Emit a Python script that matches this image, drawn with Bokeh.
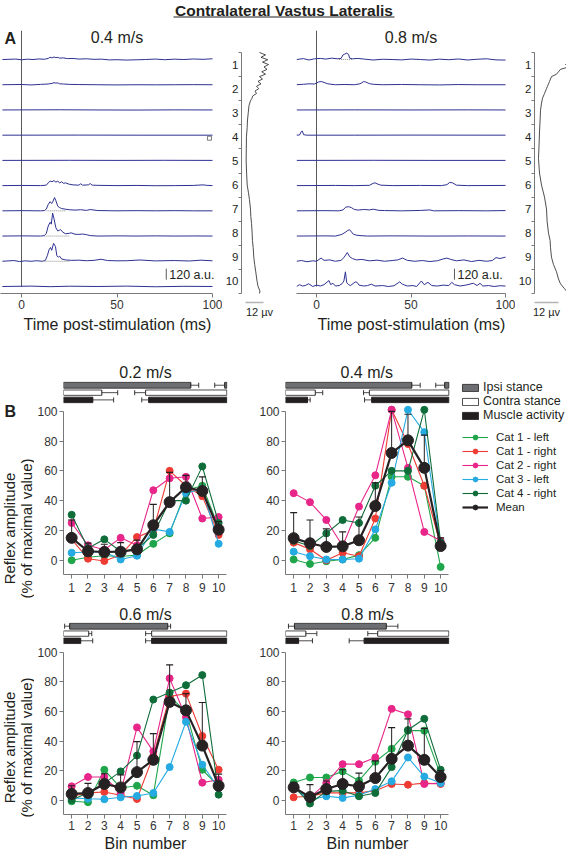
import math
from bokeh.plotting import figure
from bokeh.models import Range1d, FixedTicker, Legend, LegendItem, Title
from bokeh.layouts import column, row
from bokeh.embed import file_html
from bokeh.resources import INLINE
from bokeh.core.properties import value

FONT = "Liberation Sans"
INK = "#231f20"
TICKC = "#333333"
AXC = "#77787b"
TRACE = "#2e3192"
MEANC = "#262223"

main_title = "Contralateral Vastus Lateralis"
y_title = ["Reflex amplitude", "(% of maximal value)"]

# ---------------- Panel A data ----------------
a_speeds = ["0.4 m/s", "0.8 m/s"]
trace_ids = [1, 2, 3, 4, 5, 6, 7, 8, 9, 10]

# (time ms, amplitude a.u.) key points per trace, 0.4 m/s
tr04 = [
    [(-10, 0), (-3, 5), (0, -3), (3, 4), (6, 0), (9, 6), (12, 3), (14, 12), (15, 25), (16, 18), (17, 28), (18, 20),
     (19, 24), (20, 15), (22, 18), (24, 10), (27, 12), (30, 5), (34, 8), (38, 2), (42, 4), (46, -4), (50, -2),
     (55, -6), (60, -3), (65, 0), (70, 5), (75, -2), (80, 4), (85, 0), (90, 6), (95, 2), (100, 8)],
    [(-10, 0), (0, 3), (5, -2), (10, 4), (14, 8), (16, 15), (17, 22), (18, 18), (19, 20), (20, 10), (22, 8),
     (25, 4), (30, 2), (40, 0), (50, -2), (60, 0), (70, -1), (80, 0), (90, 1), (100, 0)],
    [(-10, 0), (20, 2), (40, 0), (60, -1), (80, 1), (100, 0)],
    [(-10, 0), (30, 1), (60, 0), (100, 0)],
    [(-10, 0), (25, 1), (50, 0), (75, 1), (100, 0)],
    [(-10, 0), (0, 2), (10, 0), (13, 5), (14, 30), (15, 50), (16, 42), (17, 55), (18, 38), (19, 48), (20, 30),
     (21, 42), (22, 25), (23, 30), (25, 15), (27, 8), (30, 5), (31, 20), (32, 5), (35, 8), (36, 22), (37, 5),
     (40, 3), (50, 0), (60, 2), (70, -1), (80, 0), (90, 2), (95, 8), (97, 3), (100, 0)],
    [(-10, 0), (0, 2), (10, 0), (12, 3), (13, 20), (14, 70), (15, 100), (15.8, 80), (16.5, 105), (17.3, 145),
     (18, 110), (19, 50), (20, 35), (21, 25), (23, 18), (25, 12), (28, 8), (31, 12), (34, 5), (36, 14), (40, 3),
     (50, 0), (60, 2), (70, 0), (80, 2), (90, 0), (100, 0)],
    [(-10, 0), (0, 2), (10, 0), (12, 5), (13, 30), (14, 110), (15, 150), (15.6, 130), (16.3, 250), (17, 190),
     (18, 90), (19, 55), (20, 65), (20.5, 70), (21.5, 45), (23, 25), (25, 30), (26, 35), (28, 20), (30, 18),
     (32, 22), (34, 15), (36, 5), (40, 0), (50, 2), (60, 0), (70, 2), (80, 0), (90, 1), (100, 0)],
    [(-10, 0), (-4, 8), (-1, -3), (2, 5), (5, 0), (8, 6), (11, 0), (12.5, 10), (13.5, 60), (14.5, 130),
     (15.2, 150), (15.8, 120), (16.8, 195), (17.8, 160), (18.5, 60), (19.3, 45), (20, 55), (21, 25), (23, 15),
     (26, 10), (30, 12), (34, 6), (38, 10), (41.6, 22), (45, 8), (50, 5), (55, 6), (62, 14), (70, 4), (80, 8),
     (88, 3), (94, 12), (100, 5)],
    [(-10, 0), (5, 4), (15, -2), (25, 3), (40, 0), (55, 4), (70, -3), (85, 2), (100, 0)],
]

# 0.8 m/s
tr08 = [
    [(-10.5, 0), (-7, 10), (-4, -5), (-1, 8), (2, 12), (5, 5), (8, 15), (11, 8), (13, 12), (14, 50), (15, 60),
     (16, 70), (17, 55), (17.5, 15), (19, 8), (22, 12), (25, 5), (30, -5), (35, 3), (40, 0), (45, -4), (50, 5),
     (55, 0), (60, -6), (65, 4), (70, -2), (75, 6), (80, -5), (85, 3), (90, 8), (95, -4), (100, -6)],
    [(-10.5, 0), (-7, 5), (-4, 10), (-1, 8), (1, 30), (2.5, 35), (4, 25), (6, 10), (10, 0), (15, 3), (20, 0),
     (23, 10), (25, 35), (26, 30), (28, 12), (30, 5), (35, 0), (45, 3), (55, 0), (65, -2), (75, 2), (85, 0),
     (100, 0)],
    [(-10.5, 0), (20, 1), (50, 0), (80, 1), (100, 0)],
    [(-10.5, 0), (-9, 2), (-8, 40), (-7.5, 45), (-6.8, 5), (-5, 0), (20, 0), (50, 1), (100, 0)],
    [(-10.5, 0), (30, 1), (60, 0), (100, 0)],
    [(-10.5, 0), (10, 2), (20, 0), (28, 3), (30, 25), (31, 30), (32, 20), (34, 5), (40, 0), (55, 2), (66, 0),
     (69, 10), (70.5, 35), (72, 30), (74, 5), (80, 0), (100, 2)],
    [(-10.5, 0), (5, 2), (12, 0), (14, 10), (15.5, 40), (17, 45), (18.5, 35), (20, 15), (22, 8), (25, 15),
     (28, 10), (30, 18), (33, 5), (36, 3), (45, 0), (55, 4), (60, 10), (62, 0), (75, 2), (90, 0), (100, 3)],
    [(-10.5, 0), (5, 2), (10, 0), (13, 15), (14, 25), (15.5, 45), (16.5, 60), (17.5, 70), (18.5, 45), (19.5, 20),
     (21, 10), (23, 5), (27, 0), (40, 2), (60, 0), (80, 1), (100, 0)],
    [(-10.5, 0), (-8, 8), (-5, -5), (-2, 5), (0, 0), (2.4, 35), (4, 10), (7, 15), (10, 0), (13, 10), (14.5, 40),
     (16.3, 95), (17.5, 50), (19, 30), (21, 15), (24, 20), (28, 5), (32, 12), (36, 0), (40, 8), (43, 15),
     (45.5, 35), (48, 10), (52, 0), (56, 8), (60, -3), (64, 6), (67, 25), (69, 35), (71, 20), (74, 5), (78, 15),
     (82, -3), (86, 10), (90, 0), (93, 8), (95, 40), (97, 30), (100, 45)],
    [(-10.5, 0), (-9, 20), (-7.5, 5), (-6, 10), (-4.2, 30), (-2, 0), (0, 15), (2, 5), (4, 20), (6.6, 65),
     (7.5, 20), (8.7, 35), (10, 5), (12, 10), (13.5, 30), (14.5, 60), (15.3, 160), (16, 40), (17, 20), (18, 10),
     (20.5, 50), (21.5, 45), (22.5, 15), (25, 5), (27, 10), (29, 25), (31, 5), (35, 10), (38, 0), (41, 8),
     (44, 50), (45.5, 25), (48, 5), (51, 10), (53, 0), (55.5, 60), (57, 20), (59, 45), (61, 10), (64, 5),
     (67, 15), (70, 10), (71.6, 45), (73, 20), (76, 5), (79, 15), (83, 35), (85, 10), (86.5, 35), (88, 5),
     (91, 10), (94, 0), (97, 8), (100, 5)],
]

# dotted baselines under the responses: (trace, from ms, to ms)
dots04 = [(7, 13, 23), (8, 12, 25), (9, 12, 25)]
dots08 = [(1, 12, 19)]

# EMG profile along the step cycle (bin position, microvolts)
prof04_bin = [0.5, 0.6, 0.7, 0.8, 0.9, 1.0, 1.1, 1.2, 1.3, 1.4, 1.5, 1.6, 1.7, 1.8, 1.9, 2.0, 2.1, 2.2, 2.3, 2.4,
              2.5, 2.7, 3.0, 3.3, 3.6, 4.0, 4.5, 5.0, 5.5, 6.0, 6.3, 6.6, 7.0, 7.3, 7.6, 8.0, 8.3, 8.6, 9.0, 9.3,
              9.6, 10.0, 10.2, 10.4, 10.5]
prof04_uv = [12, 16, 13, 17.5, 14, 18, 15, 17, 13.5, 16, 12, 14, 11, 13, 10, 11.5, 9, 10, 7.5, 7,
             6, 5, 4.5, 4, 3.8, 3.3, 3.2, 3.1, 3.4, 3.8, 4.6, 5.3, 6, 6.2, 6.7, 7.1, 7.3, 7.8, 8.2, 8.8,
             9.5, 10.4, 11, 12.3, 12]
prof08_bin = [0.5, 0.6, 0.7, 0.8, 0.9, 1.0, 1.1, 1.2, 1.3, 1.4, 1.5, 1.6, 1.7, 1.8, 1.9, 2.0, 2.2, 2.4, 2.6, 2.9,
              3.3, 3.8, 4.3, 4.9, 5.5, 6.0, 6.5, 7.0, 7.5, 8.0, 8.3, 8.6, 9.0, 9.3, 9.6, 9.9, 10.1, 10.3, 10.4, 10.5]
prof08_uv = [17.5, 16, 19, 16.5, 18.5, 15.5, 17, 13, 12, 11, 8.5, 8, 7.5, 7, 6.5, 6, 5, 4, 3.5, 3,
             2.8, 2.5, 2.3, 2, 2.5, 3.5, 5, 6, 6.3, 7, 7.8, 8, 8.5, 9.5, 11, 12, 13, 15, 16, 17.5]

# ---------------- Panel B data ----------------
bins = [1, 2, 3, 4, 5, 6, 7, 8, 9, 10]
b_speeds = ["0.2 m/s", "0.4 m/s", "0.6 m/s", "0.8 m/s"]
cat_names = ["Cat 1 - left", "Cat 1 - right", "Cat 2 - right", "Cat 3 - left", "Cat 4 - right"]
cat_colors = ["#1fa64b", "#ee3b33", "#e8268a", "#25aae1", "#0f6d3a"]

c1l_02 = [0, 2, 3, 2.5, 3.5, 11, 18, 47, 50, 22]
c1r_02 = [14, 1, -0.5, 3.5, 15.5, 20, 60, 50, 43, 17]
c2r_02 = [25, 10, 7, 15, 10, 47, 55, 56, 28, 29]
c3l_02 = [5, 5.5, 5.5, 0.5, 3, 21, 19, 45, 48, 11]
c4r_02 = [30.5, 8, 14, 6, 7.5, 17, 40, 40, 63, 25]
mean_02 = [15, 6, 5.5, 5.7, 7.3, 23.5, 39, 49, 46.5, 20.5]
err_02 = [27, 11.5, 10.7, 11.8, 13.5, 37.5, 59, 57, 56, 26]

c1l_04 = [0.5, -2.5, -0.7, 0.5, 3.4, 15, 56, 56, 50, -4.5]
c1r_04 = [11.8, 7.3, 0, 5, 2.7, 28, 101, 78, 50, 10]
c2r_04 = [45, 39, 27, 9.5, 36, 57, 101, 62, 19, 13]
c3l_04 = [5.7, 2.7, 0.5, 0.5, 1, 20.7, 52, 101, 86, 10]
c4r_04 = [13, 9.5, 18, 27, 25, 50, 60, 60, 101, 12]
mean_04 = [14.8, 11.4, 8.9, 9.3, 13.4, 36.4, 72, 80.5, 62, 9.5]
err_04 = [32, 27, 21, 19, 29, 52, 100, 98, 84, 15]

c1l_06 = [-0.7, -1.3, 20.6, 8.3, 9.8, 3.4, 70, 60, 20.6, 9.4]
c1r_06 = [2.7, 5, 5.6, 3.4, 0.9, 30, 70, 72, 43.4, 20.6]
c2r_06 = [9.4, 15.7, 15.7, 5, 49.2, 33, 82.3, 56, 11.9, 13.9]
c3l_06 = [1.6, 1, 0.7, 2, 2.9, 4.9, 22.4, 53, 24, 8.3]
c4r_06 = [0.2, 5, 11.6, 19.5, 30.2, 68, 72.7, 77.7, 84.5, 3.8]
mean_06 = [4.3, 4.9, 11, 8.7, 19, 27.3, 66.4, 60.7, 36.9, 9.8]
err_06 = [9.8, 11.4, 17.9, 17.2, 39.6, 45, 91.4, 72, 66, 17.7]

c1l_08 = [12, 15.4, 15.4, 19.5, 13.2, 26, 34.7, 47, 47, 17]
c1r_08 = [2, 2.7, 5, 5, 5, 6.5, 11, 10.5, 11.6, 11]
c2r_08 = [9, 2, 11.6, 24.4, 24.4, 28.9, 61.7, 58, 11, 11.6]
c3l_08 = [8.3, 0.4, 2.7, 1.6, 3.4, 7.6, 12.8, 28.9, 16, 11.6]
c4r_08 = [9.4, -2.2, 6, 6.5, 2.7, 4.9, 22.4, 47.4, 55, 20.6]
mean_08 = [8.7, 2.2, 7.6, 11, 9.4, 15, 28, 36.9, 27.3, 15.7]
err_08 = [12, 10.5, 13, 20.6, 18.3, 26.6, 49, 55, 48.5, 20]

# phase bars in % of step cycle: [start, end] of bars and of their SD whiskers
ipsi_02 = [[0, 77.9], [98.7, 100]]
ipsi_02_sd = [[77.9, 82.8], [92.6, 98.7]]
contra_02 = [[0, 23.4], [50.3, 100]]
contra_02_sd = [[23.4, 33.2], [43.6, 50.3]]
muscle_02 = [[0, 17.9], [52.2, 100]]
muscle_02_sd = [[17.9, 30.7], [47.9, 52.2]]

ipsi_04 = [[0, 77.3], [97.5, 100]]
ipsi_04_sd = [[77.3, 82.5], [92.0, 97.5]]
contra_04 = [[0, 18.2], [51.4, 100]]
contra_04_sd = [[18.2, 22.8], [47.8, 51.4]]
muscle_04 = [[0, 13.5], [52.8, 100]]
muscle_04_sd = [[13.5, 15.1], [48.4, 52.8]]

ipsi_06 = [[3.8, 63.8]]
ipsi_06_sd = [[0.7, 3.8], [63.8, 65.6]]
contra_06 = [[0, 15.4], [54, 100]]
contra_06_sd = [[15.4, 17.3], [50.3, 54]]
muscle_06 = [[0, 10.5], [54, 100]]
muscle_06_sd = [[10.5, 17.9], [50.3, 54]]

ipsi_08 = [[5.5, 61.7]]
ipsi_08_sd = [[1.8, 5.5], [61.7, 68.8]]
contra_08 = [[0, 12.4], [56.5, 100]]
contra_08_sd = [[12.4, 19.2], [50.4, 56.5]]
muscle_08 = [[0, 8], [48.2, 100]]
muscle_08_sd = [[8, 16.5], [39, 48.2]]

phase_labels = ["Ipsi stance", "Contra stance", "Muscle activity"]

# ---------------- layout constants ----------------
AU_PER_SLOT = 275.0          # one trace slot = 25.2 px, 120 a.u. ~ 11 px
SLOT_TOP = 0.151
SLOT_BOT = -10.278
BIN_PX = 16.33
ROW_Y = {"ipsi": (115.5, 119.5), "contra": (110.7, 114.3), "muscle": (105.8, 109.5)}
ROW_FILL = {"ipsi": "#6d6e71", "contra": "white", "muscle": INK}


def bare(p):
    p.outline_line_color = None
    p.grid.visible = False
    p.background_fill_color = "white"
    p.border_fill_color = "white"


def style_axis(ax, size="13px", tick_out=4, standoff=2):
    ax.axis_line_color = AXC
    ax.major_tick_line_color = AXC
    ax.minor_tick_line_color = None
    ax.major_tick_out = tick_out
    ax.major_tick_in = 0
    ax.major_label_text_font = FONT
    ax.major_label_text_font_size = size
    ax.major_label_text_color = TICKC
    ax.major_label_standoff = standoff
    ax.axis_label_text_font = FONT
    ax.axis_label_text_font_style = "normal"
    ax.axis_label_text_color = INK


def trace_panel(speed, frame_w, t_start, t_end, traces, dots, scale_t, label_offset, letter=None, marks=None):
    p = figure(frame_width=frame_w, frame_height=263,
               x_range=Range1d(t_start, t_end), y_range=Range1d(SLOT_BOT, SLOT_TOP),
               min_border_left=0, min_border_right=0, min_border_top=8, min_border_bottom=45,
               y_axis_location=None, toolbar_location=None, output_backend="svg")
    bare(p)
    style_axis(p.xaxis[0], "12px", tick_out=4, standoff=2)
    p.xaxis.ticker = FixedTicker(ticks=[0, 50, 100])
    p.xaxis.bounds = (t_start, 100)
    p.add_layout(Title(text="Time post-stimulation (ms)", align="left", offset=label_offset, standoff=4,
                       text_font=FONT, text_font_size="16px", text_font_style="normal", text_color=INK), "below")

    p.segment(x0=[0], y0=[SLOT_TOP], x1=[0], y1=[-10], line_color="#58595b", line_width=1)
    for k, tr in enumerate(traces, start=1):
        p.line([q[0] for q in tr], [-k + q[1] / AU_PER_SLOT for q in tr], line_color=TRACE, line_width=1)
    for (k, ta, tb) in dots:
        p.segment(x0=[ta], y0=[-k], x1=[tb], y1=[-k], line_color="#8a8a8a", line_width=1, line_dash="1 1")
    if marks:
        p.scatter([m[0] for m in marks], [-m[1] - 0.12 for m in marks], marker="square", size=4,
                  fill_color="white", line_color="#58595b", line_width=0.8)

    p.segment(x0=[scale_t], y0=[-9.73], x1=[scale_t], y1=[-9.73 + 120 / AU_PER_SLOT],
              line_color="#58595b", line_width=1)
    p.text(x=[scale_t], y=[-9.53], text=["120 a.u."], x_offset=3, text_align="left", text_baseline="middle",
           text_font=value(FONT), text_font_size="12.5px", text_color=INK)
    p.text(x=[50], y=[-0.127], text=[speed], text_align="center", text_baseline="middle",
           text_font=value(FONT), text_font_size="16px", text_color=INK)
    if letter:
        p.text(x=[t_start + 4 / 1.91], y=[-0.166], text=[letter], text_align="left", text_baseline="middle",
               text_font=value(FONT), text_font_size="16px", text_font_style="bold", text_color=INK)
    return p


def profile_panel(frame_w, uv_end, pbin, puv, scale_lo, scale_tick):
    p = figure(frame_width=frame_w, frame_height=272,
               x_range=Range1d(0, uv_end), y_range=Range1d(0.5 + 250 / 24.1, 0.5 - 22 / 24.1),
               min_border_left=12, min_border_right=0, min_border_top=8, min_border_bottom=36,
               toolbar_location=None, output_backend="svg")
    bare(p)
    ya = p.yaxis[0]
    style_axis(ya, "11.5px", tick_out=0, standoff=0)
    ya.major_label_text_color = INK
    ya.major_tick_line_color = None
    ya.minor_tick_line_color = AXC
    ya.minor_tick_out = 3
    ya.minor_tick_in = 0
    ya.ticker = FixedTicker(ticks=trace_ids, minor_ticks=[b - 0.5 for b in trace_ids] + [10.5])
    ya.bounds = (0.5, 10.5)
    xa = p.xaxis[0]
    style_axis(xa, "11px", tick_out=0, standoff=3)
    xa.major_label_text_color = INK
    xa.axis_line_color = "#b3b3b3"
    xa.axis_line_width = 1.5
    xa.major_tick_line_color = None
    xa.ticker = FixedTicker(ticks=[scale_tick])
    xa.bounds = (scale_lo, scale_lo + 12)
    xa.major_label_overrides = {scale_tick: "12 µv"}
    p.line(puv, pbin, line_color=INK, line_width=0.8)
    return p


def strip(width, height, texts):
    p = figure(frame_width=width, frame_height=height, x_range=Range1d(0, width), y_range=Range1d(0, height),
               min_border=0, x_axis_location=None, y_axis_location=None, toolbar_location=None,
               output_backend="svg")
    bare(p)
    for (x, y, t, size, style, angle, align) in texts:
        p.text(x=[x], y=[y], text=[t], angle=angle, text_align=align, text_baseline="middle",
               text_font=value(FONT), text_font_size=size, text_font_style=style, text_color=INK)
    return p


def b_panel(speed, vals, mean, err, bars, frame_w, lb, rb, tb, bb, frame_h, title_standoff, xstand,
            title_align="center", title_offset=0, xlabel=False, legend=False):
    x_end = 0.5 + frame_w / BIN_PX
    p = figure(frame_width=frame_w, frame_height=frame_h,
               x_range=Range1d(0.5, x_end), y_range=Range1d(-9.6, 120),
               min_border_left=lb, min_border_right=rb, min_border_top=tb, min_border_bottom=bb,
               toolbar_location=None, output_backend="svg")
    bare(p)
    p.title.text = speed
    p.title.align = title_align
    p.title.offset = title_offset
    p.title.standoff = title_standoff
    p.title.text_font = FONT
    p.title.text_font_size = "16px"
    p.title.text_font_style = "normal"
    p.title.text_color = INK
    p.extra_x_ranges = {"cycle": Range1d(0, (x_end - 0.5) * 10)}

    style_axis(p.xaxis[0], "12px", tick_out=4, standoff=xstand)
    style_axis(p.yaxis[0], "12px", tick_out=4, standoff=2)
    p.xaxis.ticker = FixedTicker(ticks=bins)
    p.xaxis.bounds = (0.5, 10.5)
    p.yaxis.ticker = FixedTicker(ticks=[0, 20, 40, 60, 80, 100])
    p.yaxis.bounds = (-9.6, 100)
    if xlabel:
        p.xaxis.axis_label = "Bin number"
        p.xaxis.axis_label_text_font_size = "16px"
        p.xaxis.axis_label_standoff = 2

    rmap = {}
    for kind in ("ipsi", "contra", "muscle"):
        segs, sds = bars[kind]
        y0, y1 = ROW_Y[kind]
        yc = (y0 + y1) / 2
        p.segment(x0=[s[0] for s in sds], y0=[yc] * len(sds), x1=[s[1] for s in sds], y1=[yc] * len(sds),
                  x_range_name="cycle", line_color=INK, line_width=0.8)
        ends = [e for s in sds for e in s]
        p.scatter(ends, [yc] * len(ends), marker="dash", angle=math.pi / 2, size=5, line_color=INK,
                  line_width=0.9, x_range_name="cycle")
        rmap[kind] = p.quad(left=[s[0] for s in segs], right=[s[1] for s in segs], bottom=[y0] * len(segs),
                            top=[y1] * len(segs), x_range_name="cycle", fill_color=ROW_FILL[kind],
                            line_color=INK, line_width=0.8)

    cat_r = []
    for name, color, v in zip(cat_names, cat_colors, vals):
        rl = p.line(bins, v, line_color=color, line_width=1.1)
        rs = p.scatter(bins, v, size=7, fill_color=color, line_color=color)
        cat_r.append((name, [rl, rs]))
    p.segment(bins, mean, bins, err, line_color=INK, line_width=1)
    p.scatter(bins, err, marker="dash", size=7, line_color=INK, line_width=1.2)
    ml = p.line(bins, mean, line_color=MEANC, line_width=2.2)
    ms = p.scatter(bins, mean, size=11, fill_color=MEANC, line_color=MEANC)
    cat_r.append(("Mean", [ml, ms]))

    if legend:
        leg1 = Legend(items=[LegendItem(label=lab, renderers=[rmap[k]])
                             for lab, k in zip(phase_labels, ("ipsi", "contra", "muscle"))],
                      location=(175, 152), glyph_width=20, glyph_height=9, label_height=14, spacing=-1,
                      padding=0, margin=0, label_standoff=3, label_text_font=FONT,
                      label_text_font_size="12.5px", label_text_color=INK, border_line_color=None,
                      background_fill_alpha=0)
        leg2 = Legend(items=[LegendItem(label=n, renderers=r) for n, r in cat_r],
                      location=(177, 60), glyph_width=26, glyph_height=12, label_height=14, spacing=0,
                      padding=0, margin=0, label_standoff=8, label_text_font=FONT,
                      label_text_font_size="11.5px", label_text_color=INK, border_line_color=None,
                      background_fill_alpha=0)
        p.add_layout(leg1)
        p.add_layout(leg2)
    return p


# ---------------- build ----------------
hdr = strip(566, 22, [(283.5, 22 - 9.5, main_title, "15.5px", "bold", 0, "center")])
hdr.segment(x0=[173], y0=[5.5], x1=[394], y1=[5.5], line_color=INK, line_width=1.2)

a_tr_l = trace_panel(a_speeds[0], 222, -21 / 1.91, (222 - 21) / 1.91, tr04, dots04, 75.8, 23, letter="A",
                     marks=[(98.4, 4)])
a_pr_l = profile_panel(55, 55 / 1.5, prof04_bin, prof04_uv, 2.7, 12)
a_tr_r = trace_panel(a_speeds[1], 219, -20 / 1.89, (219 - 20) / 1.89, tr08, dots08, 73, 21)
a_pr_r = profile_panel(42, 21, prof08_bin, prof08_uv, 0, 6)

STRIP_W = 34
s_top = strip(STRIP_W, 262, [(4, 262 - 30, "B", "16px", "bold", 0, "left"),
                             (9, 262 - 147, y_title[0], "15px", "normal", math.pi / 2, "center"),
                             (25.5, 262 - 147, y_title[1], "15px", "normal", math.pi / 2, "center")])
s_bot = strip(STRIP_W, 252, [(9, 252 - 125, y_title[0], "15px", "normal", math.pi / 2, "center"),
                             (25.5, 252 - 125, y_title[1], "15px", "normal", math.pi / 2, "center")])

b_tl = b_panel(b_speeds[0], [c1l_02, c1r_02, c2r_02, c3l_02, c4r_02], mean_02, err_02,
               {"ipsi": (ipsi_02, ipsi_02_sd), "contra": (contra_02, contra_02_sd), "muscle": (muscle_02, muscle_02_sd)},
               164, 29, 28, 43, 26, 193, 2, 4)
b_tr = b_panel(b_speeds[1], [c1l_04, c1r_04, c2r_04, c3l_04, c4r_04], mean_04, err_04,
               {"ipsi": (ipsi_04, ipsi_04_sd), "contra": (contra_04, contra_04_sd), "muscle": (muscle_04, muscle_04_sd)},
               281, 30, 0, 43, 26, 193, 2, 4, title_align="left", title_offset=55, legend=True)
b_bl = b_panel(b_speeds[2], [c1l_06, c1r_06, c2r_06, c3l_06, c4r_06], mean_06, err_06,
               {"ipsi": (ipsi_06, ipsi_06_sd), "contra": (contra_06, contra_06_sd), "muscle": (muscle_06, muscle_06_sd)},
               164, 29, 28, 22, 38, 192, 0, 2, xlabel=True)
b_br = b_panel(b_speeds[3], [c1l_08, c1r_08, c2r_08, c3l_08, c4r_08], mean_08, err_08,
               {"ipsi": (ipsi_08, ipsi_08_sd), "contra": (contra_08, contra_08_sd), "muscle": (muscle_08, muscle_08_sd)},
               164, 30, 10, 22, 38, 192, 0, 2, xlabel=True)

layout = column(hdr, row(a_tr_l, a_pr_l, a_tr_r, a_pr_r), row(s_top, b_tl, b_tr), row(s_bot, b_bl, b_br))

with open("out.html", "w") as f:
    f.write(file_html(layout, INLINE))
